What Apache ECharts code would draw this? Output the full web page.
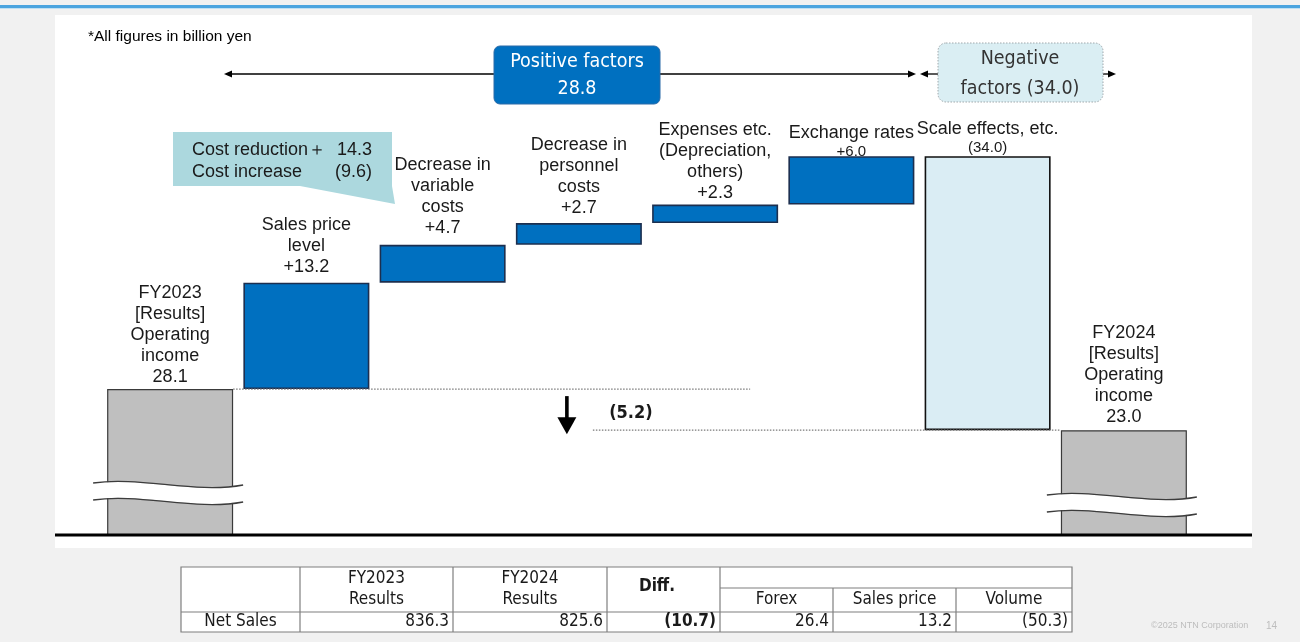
<!DOCTYPE html>
<html><head><meta charset="utf-8">
<script src="https://cdn.jsdelivr.net/npm/echarts/dist/echarts.min.js"></script>
<style>html,body{margin:0;padding:0;background:#f1f1f1;}#c{width:1300px;height:642px;}</style>
</head><body><div id="c"></div>
<script>
// ---------------- DATA ----------------
const categories = [
  'FY2023\n[Results]\nOperating\nincome',
  'Sales price\nlevel',
  'Decrease in\nvariable\ncosts',
  'Decrease in\npersonnel\ncosts',
  'Expenses etc.\n(Depreciation,\nothers)',
  'Exchange rates',
  'Scale effects, etc.',
  'FY2024\n[Results]\nOperating\nincome'
];
const deltas = [28.1, 13.2, 4.7, 2.7, 2.3, 6.0, -34.0, 23.0];
const kinds = ['total', 'up', 'up', 'up', 'up', 'up', 'down', 'total'];
const valueLabels = ['28.1', '+13.2', '+4.7', '+2.7', '+2.3', '+6.0', '(34.0)', '23.0'];
const noteText = '*All figures in billion yen';
const positiveText = ['Positive factors', '28.8'];
const negativeText = ['Negative', 'factors (34.0)'];
const costNoteLeft = ['Cost reduction\uFF0B', 'Cost increase'];
const costNoteRight = ['14.3', '(9.6)'];
const diffLabel = '(5.2)';
const tableRowLabel = 'Net Sales';
const tableHeads = ['FY2023\nResults', 'FY2024\nResults', 'Diff.', 'Forex', 'Sales price', 'Volume'];
const netSales = ['836.3', '825.6', '(10.7)', '26.4', '13.2', '(50.3)'];
const footerText = '\u00A92025 NTN Corporation';
const pageNo = '14';

// ---------------- BUILD ----------------
const bases = [], heights = [];
let run = 0;
deltas.forEach((d, i) => {
  if (kinds[i] === 'total') { bases.push(0); heights.push(d); run = d; }
  else if (d >= 0) { bases.push(run); heights.push(d); run += d; }
  else { run += d; bases.push(run); heights.push(-d); }
});

const LBL = 'Liberation Sans, Arial, sans-serif';
const CND = 'DejaVu Sans Condensed, DejaVu Sans, sans-serif';
const styleOf = {
  total: { color: '#bfbfbf', borderColor: '#3a3a3a', borderWidth: 1.2 },
  up: { color: '#0070c0', borderColor: '#1c2f4f', borderWidth: 1.6 },
  down: { color: '#daedf4', borderColor: '#111111', borderWidth: 1.6 }
};
const labelDist = [2, 5, 6, 5, 1, -4, 0, 3];
const smallVal = [false, false, false, false, false, true, true, false];

const visData = heights.map((h, i) => ({
  value: h,
  itemStyle: styleOf[kinds[i]],
  label: {
    show: true, position: 'top', distance: labelDist[i],
    formatter: () => categories[i].split('\n').map(l => '{n|' + l + '}').join('\n') +
      '\n{' + (smallVal[i] ? 's' : 'n') + '|' + valueLabels[i] + '}'
  }
}));

const chart = echarts.init(document.getElementById('c'), null, { renderer: 'canvas' });
chart.setOption({
  animation: false,
  backgroundColor: 'transparent',
  grid: { left: 102, top: 132, width: 1090, height: 403 },
  xAxis: { type: 'category', data: categories, show: false },
  yAxis: { type: 'value', min: 10, max: 60, show: false },
  series: [
    { type: 'bar', stack: 'w', data: bases, barWidth: 126, clip: true, silent: true,
      itemStyle: { color: 'rgba(0,0,0,0)' }, z: 2 },
    { type: 'bar', stack: 'w', data: visData, barWidth: 126, clip: true, z: 3,
      label: { color: '#1a1a1a', fontFamily: LBL,
        rich: { n: { fontSize: 18, lineHeight: 21, fontFamily: LBL, color: '#1a1a1a' },
                s: { fontSize: 15, lineHeight: 17, fontFamily: LBL, color: '#1a1a1a' } } } }
  ]
});

const P = (i, v) => chart.convertToPixel({ gridIndex: 0 }, [i, v]);
const half = 63;
const els = [];
// panel + top line
els.push({ type: 'rect', z: -10, shape: { x: 55, y: 15, width: 1197, height: 533 }, style: { fill: '#ffffff' } });
els.push({ type: 'rect', z: -10, shape: { x: 0, y: 5, width: 1300, height: 3 }, style: { fill: '#4ba4df' } });
els.push({ type: 'rect', z: -10, shape: { x: 0, y: 8, width: 1300, height: 1 }, style: { fill: '#bfe0f3' } });
// note
els.push({ type: 'text', x: 88, y: 37, style: { text: noteText, fontSize: 15.5, fontFamily: LBL, fill: '#000', verticalAlign: 'middle' } });

// arrows row
const ay = 74;
const line = (x1, y1, x2, y2, w, c, dash) => ({ type: 'line', z: 20, shape: { x1, y1, x2, y2 }, style: { stroke: c || '#000', lineWidth: w || 1.3, lineDash: dash || null } });
const head = (tx, ty, dir) => ({ type: 'polygon', z: 20, shape: { points: [[tx, ty], [tx - 8 * dir, ty - 3.5], [tx - 8 * dir, ty + 3.5]] }, style: { fill: '#000' } });
els.push(line(228, ay, 494, ay), head(224, ay, -1));
els.push(line(660, ay, 910, ay), head(916, ay, 1));
els.push(line(926, ay, 938, ay), head(920, ay, -1));
els.push(line(1103, ay, 1110, ay), head(1116, ay, 1));
// positive box
els.push({ type: 'rect', z: 20, shape: { x: 494, y: 46, width: 166, height: 58, r: 6 }, style: { fill: '#0070c0', stroke: '#2a6aa8', lineWidth: 1 } });
els.push({ type: 'text', z: 21, x: 577, y: 62, style: { text: positiveText[0], fontSize: 19.5, fontFamily: CND, fill: '#fff', align: 'center', verticalAlign: 'middle' } });
els.push({ type: 'text', z: 21, x: 577, y: 89, style: { text: positiveText[1], fontSize: 19.5, fontFamily: CND, fill: '#fff', align: 'center', verticalAlign: 'middle' } });
// negative box
els.push({ type: 'rect', z: 20, shape: { x: 938, y: 43, width: 165, height: 59, r: 8 }, style: { fill: '#daeef3', stroke: '#a0a8ac', lineWidth: 1, lineDash: [1.5, 1.5] } });
els.push({ type: 'text', z: 21, x: 1020, y: 59, style: { text: negativeText[0], fontSize: 19.5, fontFamily: CND, fill: '#333', align: 'center', verticalAlign: 'middle' } });
els.push({ type: 'text', z: 21, x: 1020, y: 89, style: { text: negativeText[1], fontSize: 19.5, fontFamily: CND, fill: '#333', align: 'center', verticalAlign: 'middle' } });

// callout
els.push({ type: 'polygon', z: 20, shape: { points: [[173, 132], [392, 132], [392, 186], [395, 204], [300, 186], [173, 186]] }, style: { fill: '#acd8de' } });
[150, 172].forEach((y, k) => {
  els.push({ type: 'text', z: 21, x: 192, y, style: { text: costNoteLeft[k], fontSize: 18, fontFamily: LBL, fill: '#1a1a1a', verticalAlign: 'middle' } });
  els.push({ type: 'text', z: 21, x: 372, y, style: { text: costNoteRight[k], fontSize: 18, fontFamily: LBL, fill: '#1a1a1a', align: 'right', verticalAlign: 'middle' } });
});

// connectors (data-driven)
const start = P(0, deltas[0]);
const endVal = bases[7] + heights[7];
const endP = P(7, endVal);
const c3 = P(3, endVal)[0];
const c4 = P(4, endVal)[0];
els.push(line(start[0] + half, start[1], c4 + 35, start[1], 1.3, '#7a7a7a', [1.5, 1.5]));
els.push(line(c3 + 14, endP[1], endP[0] - half, endP[1], 1.3, '#7a7a7a', [1.5, 1.5]));
// down arrow
const ax = c3 - 12;
els.push({ type: 'rect', z: 20, shape: { x: ax - 1.8, y: start[1] + 7, width: 3.6, height: endP[1] - start[1] - 19 }, style: { fill: '#000' } });
els.push({ type: 'polygon', z: 20, shape: { points: [[ax - 9.5, endP[1] - 13], [ax + 9.5, endP[1] - 13], [ax, endP[1] + 4]] }, style: { fill: '#000' } });
els.push({ type: 'text', z: 20, x: c3 + 52, y: (start[1] + endP[1]) / 2 + 4, style: { text: diffLabel, fontSize: 18, fontWeight: 'bold', fontFamily: CND, fill: '#1a1a1a', align: 'center', verticalAlign: 'middle' } });

// break marks on total bars
const base = P(0, 10)[1];
[[0, 52], [7, 40]].forEach(([i, off]) => {
  const cx = P(i, 10)[0];
  const x1 = cx - 77, x2 = cx + 73, y0 = base - off;
  const curve = (dy, w, c) => ({ type: 'bezierCurve', z: 30, shape: { x1, y1: y0 + dy, x2, y2: y0 + dy + 2, cpx1: cx - 30, cpy1: y0 + dy - 7, cpx2: cx + 25, cpy2: y0 + dy + 11 }, style: { stroke: c, lineWidth: w, fill: null } });
  els.push(curve(8.5, 16, '#ffffff'));
  els.push(curve(0, 1.3, '#3c3c3c'));
  els.push(curve(17, 1.3, '#3c3c3c'));
});
// baseline
els.push({ type: 'rect', z: 31, shape: { x: 55, y: base - 1.5, width: 1197, height: 3 }, style: { fill: '#000' } });

// table
const cx = [181, 300, 453, 607, 720, 833, 956, 1072];
const ry = [567, 588, 612, 632];
const TC = '#7f7f7f';
els.push({ type: 'rect', z: 1, shape: { x: cx[0], y: ry[0], width: cx[7] - cx[0], height: ry[3] - ry[0] }, style: { fill: '#fff', stroke: TC, lineWidth: 1.2 } });
els.push(line(cx[0], ry[2], cx[7], ry[2], 1.2, TC));
els.push(line(cx[4], ry[1], cx[7], ry[1], 1.2, TC));
[1, 2, 3, 4].forEach(k => els.push(line(cx[k], ry[0], cx[k], ry[3], 1.2, TC)));
[5, 6].forEach(k => els.push(line(cx[k], ry[1], cx[k], ry[3], 1.2, TC)));
const tt = (x, y, text, align, bold) => ({ type: 'text', z: 21, x, y, style: { text, fontSize: 17, lineHeight: 21, fontFamily: CND, fontWeight: bold ? 'bold' : 'normal', fill: '#1a1a1a', align, verticalAlign: 'middle' } });
els.push(tt((cx[1] + cx[2]) / 2, 589, tableHeads[0], 'center'));
els.push(tt((cx[2] + cx[3]) / 2, 589, tableHeads[1], 'center'));
els.push(tt(657, 587, tableHeads[2], 'center', true));
els.push(tt((cx[4] + cx[5]) / 2, 600, tableHeads[3], 'center'));
els.push(tt((cx[5] + cx[6]) / 2, 600, tableHeads[4], 'center'));
els.push(tt((cx[6] + cx[7]) / 2, 600, tableHeads[5], 'center'));
els.push(tt((cx[0] + cx[1]) / 2, 622, tableRowLabel, 'center'));
netSales.forEach((v, k) => els.push(tt(cx[k + 2] - 4, 622, v, 'right', k === 2)));
// footer
els.push({ type: 'text', x: 1151, y: 626, style: { text: footerText, fontSize: 9, fontFamily: LBL, fill: '#bdbdbd', verticalAlign: 'middle' } });
els.push({ type: 'text', x: 1266, y: 626, style: { text: pageNo, fontSize: 10, fontFamily: LBL, fill: '#bdbdbd', verticalAlign: 'middle' } });

chart.setOption({ graphic: { elements: els } });
</script>
</body></html>
